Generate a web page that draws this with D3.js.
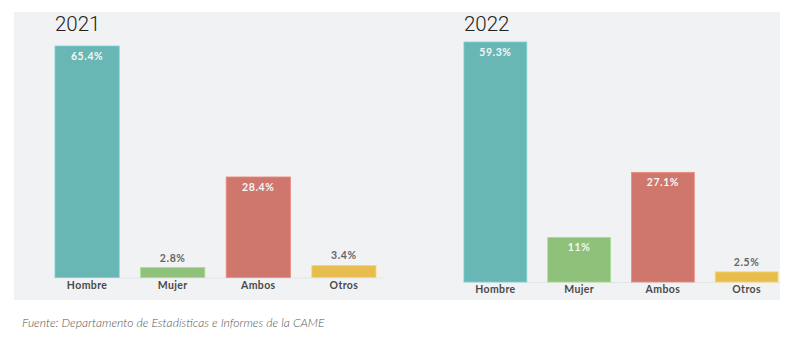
<!DOCTYPE html>
<html>
<head>
<meta charset="utf-8">
<script src="https://cdn.jsdelivr.net/npm/d3@7"></script>
<style>
  body { margin: 0; background: #fff; }
  svg { display: block; }
</style>
</head>
<body>
<div id="chart"></div>
<script>
const categories = ["Hombre", "Mujer", "Ambos", "Otros"];
const years = ["2021", "2022"];
const values2021 = [65.4, 2.8, 28.4, 3.4];
const values2022 = [59.3, 11, 27.1, 2.5];
const valueLabels2021 = ["65.4%", "2.8%", "28.4%", "3.4%"];
const valueLabels2022 = ["59.3%", "11%", "27.1%", "2.5%"];
const colors = ["#68b7b5", "#8fc17a", "#cf776c", "#e8bd4f"];
const source = "Fuente: Departamento de Estadísticas e Informes de la CAME";

const totalWidth = 800, totalHeight = 338;

const svg = d3.select("#chart").append("svg")
    .attr("width", totalWidth)
    .attr("height", totalHeight);

// shared grey panel behind both charts
svg.append("rect")
    .attr("x", 14).attr("y", 12)
    .attr("width", 766).attr("height", 288)
    .attr("fill", "#f1f2f4");

const clip = svg.append("clipPath").attr("id", "panelClip");
clip.append("rect").attr("x", 14).attr("y", 12).attr("width", 766).attr("height", 288);

const panels = [
    {title: years[0], values: values2021, labels: valueLabels2021, x0: 44.3, x1: 386.7, base: 277.5, top: 46},
    {title: years[1], values: values2022, labels: valueLabels2022, x0: 453.5, x1: 788.5, base: 282, top: 42}
];

function drawPanel(p) {
    const g = svg.append("g").attr("clip-path", "url(#panelClip)");
    const data = categories.map((c, i) => ({cat: c, value: p.values[i], label: p.labels[i], color: colors[i]}));

    const xScale = d3.scaleBand()
        .domain(categories)
        .range([p.x0, p.x1])
        .paddingInner(0.25)
        .paddingOuter(0.125);
    const yScale = d3.scaleLinear()
        .domain([0, d3.max(p.values)])
        .range([p.base, p.top]);

    // title
    svg.append("text")
        .attr("x", xScale(categories[0]))
        .attr("y", 31)
        .attr("font-family", "Roboto, sans-serif")
        .attr("font-weight", 300)
        .attr("font-size", 20.5)
        .attr("fill", "#222")
        .text(p.title);

    // baseline
    g.append("line")
        .attr("x1", p.x0 + 9).attr("x2", Math.min(p.x1 - 4, 780))
        .attr("y1", p.base + 0.5).attr("y2", p.base + 0.5)
        .attr("stroke", "#e2e4e7");

    g.selectAll("rect.bar")
        .data(data)
        .enter().append("rect")
        .attr("class", "bar")
        .attr("x", d => xScale(d.cat))
        .attr("y", d => yScale(d.value))
        .attr("width", xScale.bandwidth())
        .attr("height", d => p.base - yScale(d.value))
        .attr("fill", d => d.color)
        .attr("stroke", d => d3.color(d.color).brighter(0.4))
        .attr("stroke-width", 0.8);

    // value labels: inside the bar if it is tall enough, otherwise above it
    g.selectAll("text.val")
        .data(data)
        .enter().append("text")
        .attr("class", "val")
        .attr("x", d => xScale(d.cat) + xScale.bandwidth() / 2)
        .attr("y", d => {
            const h = p.base - yScale(d.value);
            return h > 20 ? yScale(d.value) + 14 : yScale(d.value) - 6;
        })
        .attr("text-anchor", "middle")
        .attr("font-family", "Lato, sans-serif")
        .attr("font-weight", 700)
        .attr("font-size", 10.5)
        .attr("letter-spacing", 0.6)
        .attr("fill", d => (p.base - yScale(d.value) > 20 ? "#f4f8f6" : "#666"))
        .text(d => d.label);

    const xAxis = d3.axisBottom(xScale).tickSize(0).tickPadding(0);
    const axisG = g.append("g")
        .attr("transform", "translate(0," + (p.base + 4) + ")")
        .call(xAxis);
    axisG.select(".domain").remove();
    axisG.selectAll("text")
        .attr("dy", "0.71em")
        .attr("font-family", "Lato, sans-serif")
        .attr("font-weight", 700)
        .attr("font-size", 10.5)
        .attr("letter-spacing", 0.4)
        .attr("fill", "#4a4a4a");
}

panels.forEach(drawPanel);

svg.append("text")
    .attr("x", 22)
    .attr("y", 327)
    .attr("font-family", "Lato, sans-serif")
    .attr("font-style", "italic")
    .attr("font-weight", 300)
    .attr("font-size", 12.1)
    .attr("fill", "#555")
    .text(source);
</script>
</body>
</html>
